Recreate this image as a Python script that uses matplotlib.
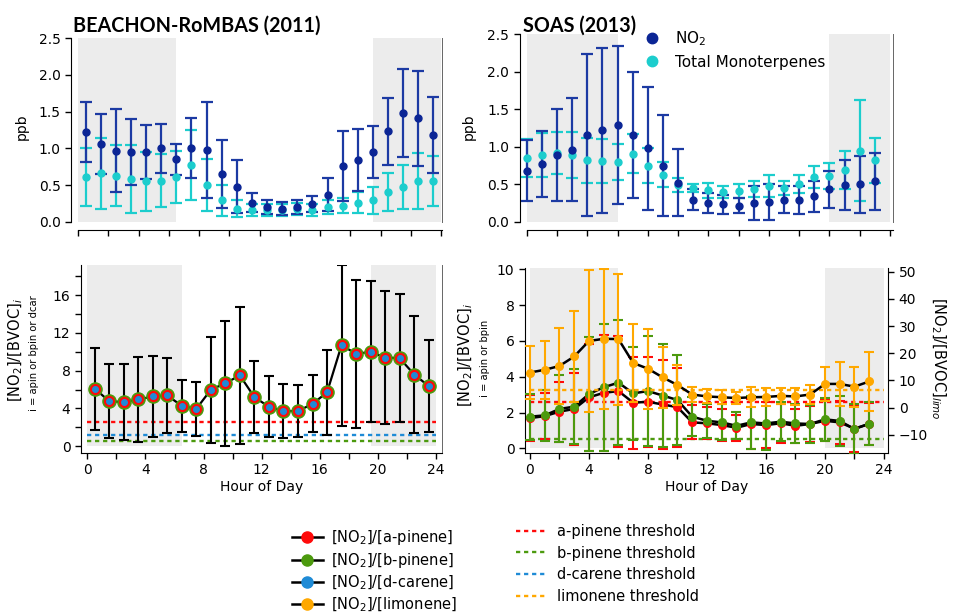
import matplotlib
matplotlib.use('Agg')
import matplotlib.pyplot as plt
from matplotlib.lines import Line2D
from matplotlib.ticker import MultipleLocator

plt.rcParams['font.family'] = ['DejaVu Sans']
plt.rcParams['mathtext.fontset'] = 'dejavusans'

# ---- BEACHON-RoMBAS (2011), half-hour bins ----
bea_hour = [0.5, 1.5, 2.5, 3.5, 4.5, 5.5, 6.5, 7.5, 8.5, 9.5, 10.5, 11.5,
            12.5, 13.5, 14.5, 15.5, 16.5, 17.5, 18.5, 19.5, 20.5, 21.5, 22.5, 23.5]
bea_no2 = [1.22, 1.06, 0.97, 0.95, 0.95, 1.00, 0.85, 1.01, 0.98, 0.65, 0.48, 0.26,
           0.20, 0.18, 0.20, 0.24, 0.37, 0.76, 0.84, 0.95, 1.23, 1.48, 1.41, 1.18]
bea_no2_sd = [0.41, 0.41, 0.56, 0.45, 0.37, 0.33, 0.21, 0.41, 0.65, 0.46, 0.36, 0.13,
              0.09, 0.09, 0.09, 0.11, 0.22, 0.48, 0.42, 0.36, 0.45, 0.60, 0.65, 0.52]
bea_mt = [0.61, 0.66, 0.63, 0.58, 0.55, 0.56, 0.61, 0.77, 0.50, 0.29, 0.18, 0.16,
          0.16, 0.16, 0.17, 0.16, 0.20, 0.22, 0.26, 0.29, 0.40, 0.48, 0.55, 0.55]
bea_mt_sd = [0.39, 0.48, 0.41, 0.46, 0.40, 0.36, 0.36, 0.48, 0.35, 0.21, 0.12, 0.08,
             0.08, 0.08, 0.08, 0.08, 0.10, 0.10, 0.14, 0.18, 0.26, 0.30, 0.38, 0.34]
# [NO2]/[BVOC]_i (apin, bpin and dcar overlap)
bea_ratio = [6.10, 4.77, 4.66, 4.94, 5.26, 5.37, 4.27, 3.95, 5.97, 6.67, 7.49, 5.19,
             4.17, 3.71, 3.71, 4.48, 5.69, 10.7, 9.78, 9.99, 9.39, 9.32, 7.59, 6.36]
bea_ratio_sd = [4.35, 3.94, 4.03, 4.54, 4.34, 3.94, 2.76, 2.88, 5.63, 6.64, 7.24, 3.85,
                3.23, 2.83, 2.72, 3.02, 4.52, 8.55, 7.86, 7.47, 7.04, 6.80, 6.25, 4.86]
bea_night = [(0, 6.5), (19.5, 24)]

# ---- SOAS (2013), hourly bins ----
soas_hour = [0, 1, 2, 3, 4, 5, 6, 7, 8, 9, 10, 11,
             12, 13, 14, 15, 16, 17, 18, 19, 20, 21, 22, 23]
soas_no2 = [0.68, 0.77, 0.89, 0.96, 1.16, 1.22, 1.29, 1.16, 0.98, 0.75, 0.52, 0.29,
            0.25, 0.23, 0.21, 0.25, 0.26, 0.29, 0.29, 0.34, 0.43, 0.49, 0.50, 0.54]
soas_no2_sd = [0.41, 0.44, 0.61, 0.69, 1.08, 1.10, 1.06, 0.84, 0.82, 0.67, 0.45, 0.14,
               0.13, 0.13, 0.10, 0.23, 0.24, 0.18, 0.19, 0.21, 0.25, 0.34, 0.38, 0.38]
soas_mt = [0.85, 0.89, 0.92, 0.89, 0.82, 0.81, 0.80, 0.91, 0.75, 0.63, 0.49, 0.45,
           0.42, 0.39, 0.41, 0.44, 0.48, 0.45, 0.50, 0.60, 0.61, 0.69, 0.95, 0.82]
soas_mt_sd = [0.25, 0.29, 0.28, 0.31, 0.30, 0.30, 0.24, 0.26, 0.23, 0.17, 0.09, 0.05,
              0.10, 0.08, 0.09, 0.11, 0.15, 0.09, 0.12, 0.15, 0.18, 0.25, 0.67, 0.30]
soas_apin = [1.69, 1.80, 2.05, 2.20, 2.85, 3.10, 3.20, 2.55, 2.60, 2.45, 2.30, 1.45,
             1.40, 1.30, 1.15, 1.36, 1.30, 1.40, 1.26, 1.36, 1.54, 1.45, 1.10, 1.36]
soas_apin_sd = [1.30, 1.30, 1.67, 2.00, 3.00, 3.25, 3.10, 2.57, 2.50, 2.46, 2.20, 0.95,
                0.90, 0.90, 0.72, 1.40, 1.30, 1.10, 0.95, 1.00, 1.15, 1.20, 1.30, 1.20]
soas_bpin = [1.77, 1.84, 2.20, 2.33, 3.03, 3.41, 3.67, 3.07, 3.20, 2.95, 2.70, 1.77,
             1.54, 1.45, 1.26, 1.45, 1.39, 1.49, 1.39, 1.36, 1.62, 1.53, 1.08, 1.38]
soas_bpin_sd = [1.29, 1.42, 1.87, 2.10, 3.20, 3.55, 3.50, 2.60, 3.05, 2.90, 2.53, 1.10,
                0.95, 1.00, 0.75, 1.50, 1.50, 1.10, 1.10, 1.05, 1.20, 1.40, 1.40, 1.20]
soas_limo = [12.9, 13.9, 15.3, 18.8, 24.5, 25.3, 25.2, 16.4, 14.3, 11.1, 8.3, 4.8,
             4.1, 3.8, 3.5, 3.8, 3.9, 4.3, 4.1, 4.8, 8.7, 8.7, 7.7, 9.6]
soas_limo_sd = [9.9, 10.7, 14.1, 16.9, 26.2, 25.7, 24.1, 14.5, 14.7, 11.2, 7.4, 2.7,
                2.6, 2.6, 2.1, 3.6, 3.4, 2.9, 3.2, 3.4, 6.3, 8.1, 7.4, 11.0]
soas_night = [(0, 6), (20, 24)]

# thresholds
thr_apin = 2.6
thr_bpin = 0.5
thr_dcar = 1.2
thr_limo = 6.4

navy = '#0b2595'
navy_bar = '#1c3aa3'
cyan = '#1ccdcd'
shade = '#ececec'
red = '#ff0a0a'
green = '#4c9a0e'
blue = '#1f8bd6'
orange = '#ffa800'
dash = (0, (1.8, 1.6))

fig = plt.figure(figsize=(9.54, 6.12), dpi=100)


def night(ax, spans, y0, y1):
    for a, b in spans:
        ax.fill_between([a, b], y0, y1, color=shade, lw=0, zorder=0)


def style(ax, offset=0):
    ax.spines['top'].set_visible(False)
    ax.spines['right'].set_color('#666666')
    ax.spines['right'].set_linewidth(0.7)
    if offset:
        ax.spines['left'].set_position(('outward', offset))
        ax.spines['bottom'].set_position(('outward', offset + 1))
    ax.tick_params(direction='out', length=4, width=1, labelsize=10)
    ax.tick_params(which='minor', direction='out', length=4, width=1)
    ax.tick_params(axis='y', right=False)


def top_panel(ax, hours, no2, no2_sd, mt, mt_sd, spans, xmax):
    ax.set_xlim(0, xmax)
    ax.set_ylim(0, 2.5)
    night(ax, spans, 0, 2.5)
    ax.errorbar(hours, mt, yerr=mt_sd, fmt='none', ecolor=cyan, elinewidth=1.6,
                capsize=4, capthick=1.6, zorder=2, clip_on=False)
    ax.errorbar(hours, no2, yerr=no2_sd, fmt='none', ecolor=navy_bar, elinewidth=1.6,
                capsize=4, capthick=1.6, zorder=3, clip_on=False)
    ax.plot(hours, mt, 'o', color=cyan, ms=5, zorder=4, clip_on=False)
    ax.plot(hours, no2, 'o', color=navy, ms=5, zorder=5, clip_on=False)
    ax.set_xticks([0, 2, 4, 6, 8, 10, 12, 14, 16, 18, 20, 22, 24])
    ax.set_xticklabels([])
    ax.set_yticks([0, 0.5, 1.0, 1.5, 2.0, 2.5])
    ax.set_yticklabels(['0.0', '0.5', '1.0', '1.5', '2.0', '2.5'])
    style(ax, offset=5)


# ---- top left ----
ax1 = fig.add_axes([0.0818, 0.6377, 0.3816, 0.2997])
top_panel(ax1, bea_hour, bea_no2, bea_no2_sd, bea_mt, bea_mt_sd, bea_night, 24.07)

# ---- top right ----
ax2 = fig.add_axes([0.5521, 0.6377, 0.3840, 0.3062])
top_panel(ax2, soas_hour, soas_no2, soas_no2_sd, soas_mt, soas_mt_sd, soas_night, 24.2)
ax2.legend(handles=[Line2D([], [], ls='none', marker='o', ms=7.5, color=navy),
                    Line2D([], [], ls='none', marker='o', ms=7.5, color=cyan)],
           labels=['NO$_2$', 'Total Monoterpenes'], loc='upper left',
           bbox_to_anchor=(644 / 954, 1 - 29 / 612), bbox_transform=fig.transFigure,
           frameon=False, fontsize=11, handlelength=1.0, handletextpad=1.05,
           borderpad=0, borderaxespad=0, labelspacing=0.45)

# ---- bottom left ----
ax3 = fig.add_axes([0.0847, 0.2603, 0.3784, 0.3067])
ax3.set_xlim(-0.45, 24.4)
ax3.set_ylim(-0.7, 19.2)
night(ax3, bea_night, 0, 19.2)
ax3.hlines(thr_apin, 0, 24, color=red, lw=1.7, linestyle=dash, zorder=1)
ax3.hlines(thr_dcar, 0, 24, color=blue, lw=1.7, linestyle=dash, zorder=1)
ax3.hlines(thr_bpin, 0, 24, color=green, lw=1.7, linestyle=dash, zorder=1)
ax3.errorbar(bea_hour, bea_ratio, yerr=bea_ratio_sd, fmt='none', ecolor='black',
             elinewidth=1.5, capsize=3.5, capthick=1.5, zorder=3)
ax3.plot(bea_hour, bea_ratio, '-', color='black', lw=1.6, zorder=4)
ax3.plot(bea_hour, bea_ratio, 'o', ms=9.5, mfc=green, mec=green, zorder=5)
ax3.plot(bea_hour, bea_ratio, 'o', ms=7, mfc=red, mec=red, zorder=6)
ax3.plot(bea_hour, bea_ratio, 'o', ms=4, mfc=blue, mec=blue, zorder=7)
ax3.xaxis.set_major_locator(MultipleLocator(4))
ax3.xaxis.set_minor_locator(MultipleLocator(2))
ax3.yaxis.set_major_locator(MultipleLocator(4))
ax3.yaxis.set_minor_locator(MultipleLocator(2))
style(ax3)
ax3.set_xlabel('Hour of Day', fontsize=10, labelpad=2)

# ---- bottom right ----
ax4 = fig.add_axes([0.5501, 0.2601, 0.3811, 0.3013])
ax4.set_xlim(-0.35, 24.3)
ax4.set_ylim(-0.25, 10.05)
ax5 = ax4.twinx()
ax5.set_ylim(-16.65, 51.2)
night(ax4, soas_night, 0, 10.05)
ax4.hlines(thr_apin, 0, 24, color=red, lw=1.7, linestyle=dash, zorder=1)
ax4.hlines(thr_bpin, 0, 24, color=green, lw=1.7, linestyle=dash, zorder=1)
ax5.hlines(thr_limo, 0, 24, color=orange, lw=1.7, linestyle=dash, zorder=1)
ax4.errorbar(soas_hour, soas_apin, yerr=soas_apin_sd, fmt='none', ecolor=red,
             elinewidth=1.5, capsize=3.5, capthick=1.5, zorder=2)
ax4.errorbar(soas_hour, soas_bpin, yerr=soas_bpin_sd, fmt='none', ecolor=green,
             elinewidth=1.5, capsize=3.5, capthick=1.5, zorder=3)
ax4.plot(soas_hour, soas_apin, '-', color='black', lw=1.8, zorder=4)
ax4.plot(soas_hour, soas_bpin, '-', color='black', lw=1.8, zorder=4)
ax4.plot(soas_hour, soas_apin, 'o', ms=5.5, color=red, zorder=5)
ax4.plot(soas_hour, soas_bpin, 'o', ms=5.5, color=green, zorder=6)
ax5.errorbar(soas_hour, soas_limo, yerr=soas_limo_sd, fmt='none', ecolor=orange,
             elinewidth=1.5, capsize=3.5, capthick=1.5, zorder=2)
ax5.plot(soas_hour, soas_limo, '-', color='black', lw=1.8, zorder=3)
ax5.plot(soas_hour, soas_limo, 'o', ms=5.5, color=orange, zorder=4)
ax4.xaxis.set_major_locator(MultipleLocator(4))
ax4.xaxis.set_minor_locator(MultipleLocator(2))
ax4.set_yticks([0, 2, 4, 6, 8, 10])
ax5.set_yticks([-10, 0, 10, 20, 30, 40, 50])
style(ax4)
ax4.spines['right'].set_visible(False)
ax5.spines['top'].set_visible(False)
ax5.spines['left'].set_visible(False)
ax5.spines['bottom'].set_visible(False)
ax5.tick_params(direction='out', length=4, width=1, labelsize=10)
ax4.set_xlabel('Hour of Day', fontsize=10, labelpad=2)

# ---- titles and axis labels ----
fig.text(73 / 954, 1 - 31.5 / 612, 'BEACHON-RoMBAS (2011)', fontfamily='Lato',
         fontweight='bold', fontsize=14.2, va='baseline')
fig.text(523 / 954, 1 - 31.5 / 612, 'SOAS (2013)', fontfamily='Lato',
         fontweight='bold', fontsize=14.2, va='baseline')
fig.text(22 / 954, 1 - 127 / 612, 'ppb', rotation=90, fontsize=10,
         ha='center', va='center')
fig.text(469 / 954, 1 - 127 / 612, 'ppb', rotation=90, fontsize=10,
         ha='center', va='center')
fig.text(16 / 954, 1 - 350 / 612, r'[NO$_2$]/[BVOC]$_i$', rotation=90,
         fontsize=10.5, ha='center', va='center')
fig.text(34 / 954, 1 - 353 / 612, 'i = apin or bpin or dcar', rotation=90,
         fontsize=7.2, ha='center', va='center')
fig.text(466 / 954, 1 - 355 / 612, r'[NO$_2$]/[BVOC]$_i$', rotation=90,
         fontsize=10.5, ha='center', va='center')
fig.text(485 / 954, 1 - 358 / 612, 'i = apin or bpin', rotation=90,
         fontsize=7.2, ha='center', va='center')
fig.text(938 / 954, 1 - 358 / 612, r'[NO$_2$]/[BVOC]$_{limo}$', rotation=270,
         fontsize=10.5, ha='center', va='center')

# ---- bottom legends ----
ratio_handles = [Line2D([], [], color='black', lw=1.8, marker='o', ms=8, mfc=c, mec=c)
                 for c in (red, green, blue, orange)]
ratio_labels = ['[NO$_2$]/[a-pinene]', '[NO$_2$]/[b-pinene]',
                '[NO$_2$]/[d-carene]', '[NO$_2$]/[limonene]']
fig.legend(ratio_handles, ratio_labels, loc='upper left',
           bbox_to_anchor=(292 / 954, 1 - 528 / 612), frameon=False, fontsize=10.5,
           handlelength=2.1, handletextpad=0.6, borderpad=0, borderaxespad=0,
           labelspacing=0.25)
thr_handles = [Line2D([], [], color=c, lw=1.7, linestyle=dash)
               for c in (red, green, blue, orange)]
thr_labels = ['a-pinene threshold', 'b-pinene threshold',
              'd-carene threshold', 'limonene threshold']
fig.legend(thr_handles, thr_labels, loc='upper left',
           bbox_to_anchor=(516 / 954, 1 - 524 / 612), frameon=False, fontsize=10.5,
           handlelength=2.2, handletextpad=0.6, borderpad=0, borderaxespad=0,
           labelspacing=0.45)

fig.savefig('out.png', dpi=100)
